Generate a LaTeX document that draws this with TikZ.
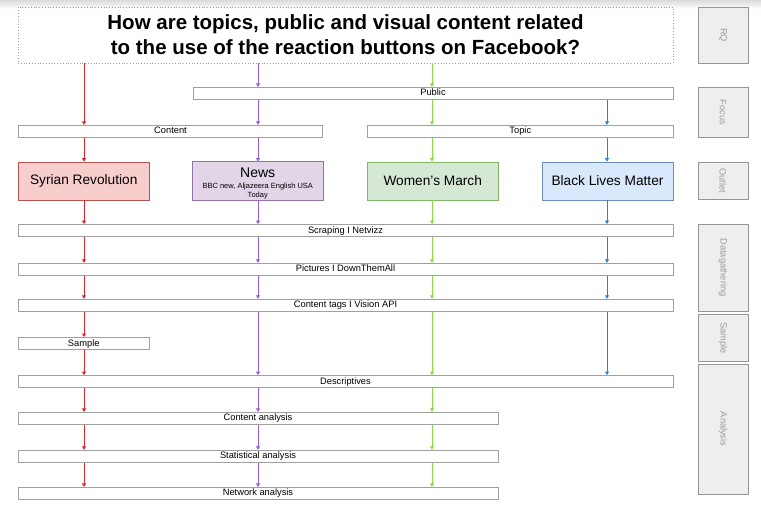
\documentclass[tikz,border=0pt]{standalone}
\usepackage{fontspec}
\setmainfont{Liberation Sans}
\usetikzlibrary{arrows.meta}
\definecolor{cred}{RGB}{214,38,42}
\definecolor{cpurple}{RGB}{156,92,214}
\definecolor{cgreen}{RGB}{134,222,66}
\definecolor{cblue}{RGB}{42,130,215}
\definecolor{boxgray}{RGB}{160,160,160}
\definecolor{sidefill}{RGB}{238,238,238}
\definecolor{sidegray}{RGB}{150,150,150}
\definecolor{sidetext}{RGB}{155,155,155}
\definecolor{redfill}{HTML}{F8CECC}\definecolor{redline}{HTML}{B85450}
\definecolor{purfill}{HTML}{E1D5E7}\definecolor{purline}{HTML}{9673A6}
\definecolor{grnfill}{HTML}{D5E8D4}\definecolor{grnline}{HTML}{82B366}
\definecolor{blufill}{HTML}{DAE8FC}\definecolor{bluline}{HTML}{6C8EBF}
\begin{document}
\begin{tikzpicture}[x=1pt,y=-1pt,
  plainbox/.style={draw=boxgray, fill=white, line width=0.8pt, inner sep=0pt,
    minimum height=12pt, text height=6.9pt, text depth=1.6pt, font=\fontsize{9.3}{11}\selectfont},
  colbox/.style={draw, line width=0.8pt, inner sep=0pt, minimum width=131pt,
    minimum height=38pt, align=center, font=\fontsize{13.7}{16}\selectfont},
  sidebox/.style={draw=sidegray, fill=sidefill, line width=0.8pt, inner sep=0pt,
    minimum width=50pt, text=sidetext, font=\fontsize{9.2}{11}\selectfont},
  arr/.style={line width=0.8pt, -{Triangle[width=4pt,length=3.5pt]}}]
\useasboundingbox (0,0) rectangle (761,524);
\shade[top color=black!14, bottom color=white] (0,0) rectangle (761,9);

% title
\node[draw=boxgray, dotted, line width=0.8pt, minimum width=655pt, minimum height=56pt,
  inner sep=0pt, align=center, font=\bfseries\fontsize{20.5}{25}\selectfont]
  (rq) at (345.5,35) {How are topics, public and visual content related\\to the use of the reaction buttons on Facebook?};

% focus
\node[plainbox, minimum width=480pt] (public) at (433,93.3) {Public};
\node[plainbox, minimum width=304.5pt] (content) at (170.5,131.3) {Content};
\node[plainbox, minimum width=305.5pt] (topic) at (520.3,131.3) {Topic};

% outlets
\node[colbox, fill=redfill, draw=redline] (syr) at (83.75,181) {Syrian Revolution};
\node[colbox, fill=purfill, draw=purline, minimum width=130.5pt, align=none] (news) at (257.75,181)
  {\fontsize{7.5}{9}\selectfont\renewcommand\arraystretch{1.0}%
   \begin{tabular}{@{}c@{}}\rule{0pt}{15.5pt}\fontsize{14}{16}\selectfont News\\[2pt]
   \fontsize{7.5}{9}\selectfont BBC new, Aljazeera English USA\\
   \fontsize{7.5}{9}\selectfont Today\end{tabular}};
\node[colbox, fill=grnfill, draw=grnline, minimum width=130.5pt] (wm) at (432.75,181) {Women's March};
\node[colbox, fill=blufill, draw=bluline] (blm) at (607.5,181) {Black Lives Matter};

% data gathering
\node[plainbox, minimum width=655pt] (scr) at (345.5,230.5) {Scraping I Netvizz};
\node[plainbox, minimum width=655pt] (pic) at (345.5,269.2) {Pictures I DownThemAll};
\node[plainbox, minimum width=655pt] (tag) at (345.5,305.2) {Content tags I Vision API};

% sample
\node[plainbox, minimum width=131.5pt] (sample) at (83.75,343.5) {Sample};

% analysis
\node[plainbox, minimum width=655pt] (desc) at (345.5,381.5) {Descriptives};
\node[plainbox, minimum width=480pt] (ca) at (258,418.3) {Content analysis};
\node[plainbox, minimum width=480pt] (sa) at (258,456.2) {Statistical analysis};
\node[plainbox, minimum width=480pt] (na) at (258,493.3) {Network analysis};

% side labels
\node[sidebox, minimum height=56pt] (sRQ) at (723,35) {\rotatebox{-90}{RQ}};
\node[sidebox, minimum height=50pt] (sFo) at (723,112.3) {\rotatebox{-90}{Focus}};
\node[sidebox, minimum height=36.7pt] (sOu) at (723,180.7) {\rotatebox{-90}{Outlet}};
\node[sidebox, minimum height=87pt] (sDa) at (723,267.5) {\rotatebox{-90}{Datagathering}};
\node[sidebox, minimum height=46.7pt] (sSa) at (723,337.7) {\rotatebox{-90}{Sample}};
\node[sidebox, minimum height=130pt] (sAn) at (723,429) {\rotatebox{-90}{Analysis}};

% columns
\coordinate (cR) at (84,0);
\coordinate (cP) at (258,0);
\coordinate (cG) at (432,0);
\coordinate (cB) at (607,0);

\foreach \a/\b in {rq/content,content/syr,syr/scr,scr/pic,pic/tag,tag/sample,sample/desc,desc/ca,ca/sa,sa/na}
  \draw[arr,cred] (\a.south -| cR) -- (\b.north -| cR);
\foreach \a/\b in {rq/public,public/content,content/news,news/scr,scr/pic,pic/tag,tag/desc,desc/ca,ca/sa,sa/na}
  \draw[arr,cpurple] (\a.south -| cP) -- (\b.north -| cP);
\foreach \a/\b in {rq/public,public/topic,topic/wm,wm/scr,scr/pic,pic/tag,tag/desc,desc/ca,ca/sa,sa/na}
  \draw[arr,cgreen] (\a.south -| cG) -- (\b.north -| cG);
\foreach \a/\b in {public/topic,topic/blm,blm/scr,scr/pic,pic/tag,tag/desc}
  \draw[arr,cblue] (\a.south -| cB) -- (\b.north -| cB);
\end{tikzpicture}
\end{document}
